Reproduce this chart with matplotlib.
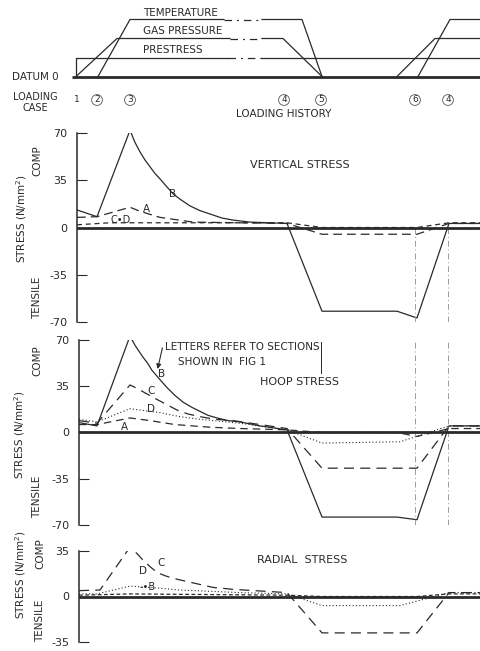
import matplotlib
matplotlib.use("Agg")
import matplotlib.pyplot as plt

plt.rcParams['font.family'] = ['DejaVu Sans']
INK = '#2a2a2a'
FAINT = '#9a9a9a'

# ---------------- data ----------------
# loading-history time axis (arbitrary units along the history)
case_labels = ['1', '2', '3', '4', '5', '6', '4']
case_t = [77, 97, 130, 284, 321, 415, 448]
case_circled = [False, True, True, True, True, True, True]

# loading history levels: 0 datum, 1 prestress, 2 gas pressure, 3 temperature
datum_t = [72, 480]
prestress_t = [76, 76, 228, 262, 480]
prestress_lvl = [0, 1, 1, 1, 1]
gas_t = [76, 117, 230, 262, 283, 322]
gas_lvl = [0, 2, 2, 2, 2, 0]
gas_t2 = [397, 435, 480]
gas_lvl2 = [0, 2, 2]
temp_t = [98, 130, 224, 262, 302, 322]
temp_lvl = [0, 3, 3, 3, 3, 0]
temp_t2 = [418, 450, 480]
temp_lvl2 = [0, 3, 3]

# vertical stress (N/mm2)
vert_B_t = [77, 97, 130, 135, 140, 145, 150, 155, 160, 167, 173, 180, 190, 200, 210, 222, 233,
            250, 287, 322, 397, 417, 449, 480]
vert_B = [13, 8, 72, 63, 56, 50, 45, 40, 36, 30, 25, 21, 16, 12.5, 10, 7, 5.5,
          4, 3, -62, -62, -67, 3, 3]
vert_A_t = [77, 97, 130, 140, 160, 193, 240, 287, 322, 417, 449, 480]
vert_A = [7.5, 8, 15, 12, 7.5, 4, 3.5, 3, -5, -5, 3, 3]
vert_CD_t = [77, 110, 287, 322, 417, 449, 480]
vert_CD = [2, 3.5, 3.5, 0, 0, 3.5, 3.5]

# hoop stress
hoop_B_t = [79, 97, 130, 135, 143, 148, 152, 160, 167, 175, 183, 192, 200, 208, 217, 228, 240,
            260, 287, 322, 397, 417, 449, 480]
hoop_B = [7.5, 5, 73, 66, 57, 52, 47, 40, 34, 28, 23, 19, 16, 13, 11, 9, 8,
          5, 2, -64, -64, -66, 5, 5]
hoop_C_t = [79, 97, 130, 138, 145, 157, 167, 177, 188, 200, 215, 233, 260, 287, 322, 417, 449, 480]
hoop_C = [9, 7, 36, 33, 30, 25, 21, 17, 14, 12, 10, 9, 6, 3, -27, -27, 5, 5]
hoop_D_t = [79, 97, 130, 145, 160, 180, 200, 220, 240, 287, 322, 400, 449, 480]
hoop_D = [10, 8, 18, 16.5, 15, 12, 10, 8.5, 7, 2, -8, -7, 5, 5]
hoop_A_t = [79, 97, 130, 150, 175, 210, 240, 287, 322, 397, 417, 449, 480]
hoop_A = [6, 6, 11, 9, 6, 4, 3, 2, 0, 0, -3, 3, 3]

# radial stress
rad_C_t = [79, 100, 130, 137, 143, 150, 157, 165, 173, 190, 213, 233, 287, 322, 417, 449, 480]
rad_C = [4.5, 5, 38, 33, 28, 23, 18.5, 16, 14, 11, 7, 5.5, 3, -28, -28, 3, 3]
rad_D_t = [79, 97, 130, 150, 180, 210, 240, 287, 322, 400, 449, 480]
rad_D = [2, 2, 8, 7, 5, 4, 3, 2, -7, -7, 3, 3]
rad_B_t = [79, 130, 287, 322, 417, 449, 480]
rad_B = [1, 2, 1, 0, 0, 2, 2]

vert_ticks = [70, 35, 0, -35, -70]
rad_ticks = [35, 0, -35]

# ---------------- figure ----------------
W, H = 480, 651
fig = plt.figure(figsize=(W / 100, H / 100), dpi=100)
fig.patch.set_facecolor('white')


def T(x, y, s, **kw):
    kw.setdefault('color', INK)
    kw.setdefault('fontsize', 7.5)
    kw.setdefault('ha', 'center')
    kw.setdefault('va', 'center')
    return fig.text(x / W, 1 - y / H, s, **kw)


def add_axes(x0, ytop, ybot, x1=480):
    return fig.add_axes([x0 / W, 1 - ybot / H, (x1 - x0) / W, (ybot - ytop) / H])


# ---- loading history ----
axh = add_axes(0, 10, 86)
axh.set_xlim(0, W)
axh.set_ylim(-0.5, 3.5)
axh.axis('off')
axh.plot(datum_t, [0, 0], color=INK, lw=2.0, solid_capstyle='butt')


def hist_line(t, lvl):
    # solid, with dash-dot section where the history is abbreviated (indices 2-3)
    axh.plot(t[:3], lvl[:3], color=INK, lw=0.9)
    axh.plot(t[2:4], lvl[2:4], color=INK, lw=0.9, linestyle=(0, (6, 4, 1.5, 4)))
    axh.plot(t[3:], lvl[3:], color=INK, lw=0.9)


hist_line(prestress_t, prestress_lvl)
hist_line(gas_t, gas_lvl)
hist_line(temp_t, temp_lvl)
axh.plot(gas_t2, gas_lvl2, color=INK, lw=0.9)
axh.plot(temp_t2, temp_lvl2, color=INK, lw=0.9)

T(143, 13, 'TEMPERATURE', ha='left')
T(143, 31, 'GAS PRESSURE', ha='left')
T(143, 50, 'PRESTRESS', ha='left')
T(12, 77, 'DATUM 0', ha='left')
T(35, 97, 'LOADING', fontsize=7)
T(35, 108, 'CASE', fontsize=7)
for lab, t, circ in zip(case_labels, case_t, case_circled):
    kw = {}
    if circ:
        kw['bbox'] = dict(boxstyle='circle,pad=0.1', fc='none', ec='#555555', lw=0.6)
    T(t, 100, lab, fontsize=6.5, **kw)
T(284, 114, 'LOADING HISTORY', fontsize=7.5)


def style_axis(ax, x0, ticks, lim):
    ax.set_xlim(x0, W)
    ax.set_ylim(-lim, lim)
    for s in ['top', 'right', 'bottom']:
        ax.spines[s].set_visible(False)
    ax.spines['left'].set_color(INK)
    ax.spines['left'].set_linewidth(1.1)
    ax.set_xticks([])
    ax.set_yticks(ticks)
    ax.set_yticklabels([str(v) for v in ticks])
    ax.tick_params(axis='y', direction='in', length=7, width=0.8, color=INK,
                   labelsize=8, labelcolor=INK, pad=7)
    ax.axhline(0, color=INK, lw=2.0, zorder=3)
    ax.patch.set_alpha(0)


# ---- vertical stress ----
axv = add_axes(77, 133, 322)
style_axis(axv, 77, vert_ticks, 70)
axv.plot(vert_B_t, vert_B, color=INK, lw=0.9)
axv.plot(vert_A_t, vert_A, color=INK, lw=0.9, linestyle=(0, (7, 4)))
axv.plot(vert_CD_t, vert_CD, color=INK, lw=0.9, linestyle=(0, (4, 3)))
for t in case_t[5:]:
    axv.axvline(t, ymin=0.0, ymax=0.5, color=FAINT, lw=0.7, linestyle=(0, (6, 3, 1, 3)))

T(300, 165, 'VERTICAL STRESS', fontsize=8)
T(173, 194, 'B', fontsize=7.5)
T(146, 209, 'A', fontsize=7.5)
T(121, 220, 'C\u2022D', fontsize=7)
T(22, 219, 'STRESS (N/mm$^2$)', rotation=90, fontsize=7.5)
T(37, 161, 'COMP', rotation=90, fontsize=7.5)
T(37, 298, 'TENSILE', rotation=90, fontsize=7.5)

# ---- hoop stress ----
axo = add_axes(79, 340, 525)
style_axis(axo, 79, vert_ticks, 70)
axo.plot(hoop_B_t, hoop_B, color=INK, lw=0.9)
axo.plot(hoop_C_t, hoop_C, color=INK, lw=0.9, linestyle=(0, (8, 5)))
axo.plot(hoop_D_t, hoop_D, color=INK, lw=0.8, linestyle=(0, (1, 2)))
axo.plot(hoop_A_t, hoop_A, color=INK, lw=0.9, linestyle=(0, (6, 4)))
for t in case_t[5:]:
    axo.axvline(t, color=FAINT, lw=0.7, linestyle=(0, (6, 3, 1, 3)))
axo.axvline(case_t[4], ymin=0.82, ymax=0.99, color=INK, lw=0.7)

T(165, 347, 'LETTERS REFER TO SECTIONS', ha='left', fontsize=7.5)
T(178, 362, 'SHOWN IN  FIG 1', ha='left', fontsize=7.5)
axo.annotate('', xy=(157, 46), xytext=(163, 66),
             arrowprops=dict(arrowstyle='-|>', color=INK, lw=0.8, mutation_scale=7))
T(300, 382, 'HOOP STRESS', fontsize=8)
T(162, 374, 'B', fontsize=7.5)
T(151, 391, 'C', fontsize=7.5)
T(151, 409, 'D', fontsize=7.5)
T(124, 427, 'A', fontsize=7.5)
T(20, 435, 'STRESS (N/mm$^2$)', rotation=90, fontsize=7.5)
T(37, 361, 'COMP', rotation=90, fontsize=7.5)
T(37, 497, 'TENSILE', rotation=90, fontsize=7.5)

# ---- radial stress ----
axr = add_axes(79, 551, 642)
style_axis(axr, 79, rad_ticks, 35)
axr.plot(rad_C_t, rad_C, color=INK, lw=0.9, linestyle=(0, (8, 5)))
axr.plot(rad_D_t, rad_D, color=INK, lw=0.8, linestyle=(0, (1, 2)))
axr.plot(rad_B_t, rad_B, color=INK, lw=0.9, linestyle=(0, (3, 2)))

T(302, 560, 'RADIAL  STRESS', fontsize=8)
T(161, 563, 'C', fontsize=7.5)
T(143, 571, 'D', fontsize=7.5)
T(148, 587, '-\u2022B', fontsize=7)
T(21, 575, 'STRESS (N/mm$^2$)', rotation=90, fontsize=7.5)
T(40, 554, 'COMP', rotation=90, fontsize=7.5)
T(40, 621, 'TENSILE', rotation=90, fontsize=7.5)

fig.savefig('out.png', dpi=100, facecolor='white')
